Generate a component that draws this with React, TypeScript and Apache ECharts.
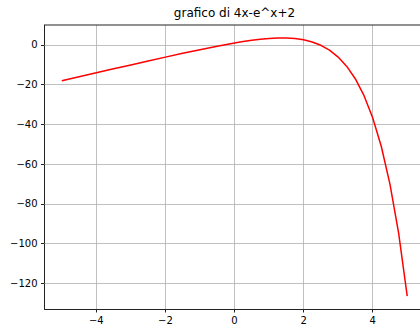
import React, { useEffect, useRef } from "react";
import * as echarts from "echarts";

const xValues = [-5, -4.5, -4, -3.5, -3, -2.5, -2, -1.5, -1, -0.5, 0, 0.25, 0.5, 0.75, 1, 1.25, 1.5, 1.75, 2, 2.25, 2.5, 2.75, 3, 3.25, 3.5, 3.75, 4, 4.25, 4.5, 4.75, 5];
const yValues = [-18.007, -16.011, -14.018, -12.03, -10.05, -8.082, -6.135, -4.223, -2.368, -0.607, 1, 1.716, 2.351, 2.883, 3.282, 3.51, 3.518, 3.245, 2.611, 1.512, -0.182, -2.643, -6.086, -10.79, -17.115, -25.521, -36.598, -51.105, -70.017, -94.584, -126.413];
const xTicks = [-4, -2, 0, 2, 4];
const yTicks = [0, -20, -40, -60, -80, -100, -120];
const titleText = "grafico di 4x-e^x+2";

const fmt = (v: number) => String(v).replace("-", "\u2212");

export default function App() {
  const ref = useRef<HTMLDivElement>(null);
  useEffect(() => {
    if (!ref.current) return;
    const chart = echarts.init(ref.current, null, { renderer: "svg" });
    const font = "DejaVu Sans";
    const axisLineStyle = { color: "#222", width: 1 };
    chart.setOption({
      animation: false,
      backgroundColor: "#fff",
      textStyle: { fontFamily: font },
      grid: { left: 44.5, right: 0.5, top: 25, bottom: 18, show: false },
      graphic: [
        {
          type: "text",
          x: 234.5,
          y: 13,
          style: {
            text: titleText,
            fontFamily: font,
            fontSize: 12,
            fill: "#000",
            textAlign: "center",
            textVerticalAlign: "middle",
          },
        },
        {
          type: "line",
          shape: { x1: 44.5, y1: 25, x2: 425, y2: 25 },
          style: { stroke: "#222", lineWidth: 1 },
          z: 10,
        },
      ],
      xAxis: {
        type: "value",
        min: -5.5,
        max: 5.5,
        axisLine: { show: true, onZero: false, lineStyle: axisLineStyle },
        axisTick: { show: true, length: 3.5, customValues: xTicks, lineStyle: axisLineStyle },
        axisLabel: { customValues: xTicks, formatter: fmt, fontSize: 10, color: "#000", margin: 6, fontFamily: font },
        splitLine: { show: false },
      },
      yAxis: {
        type: "value",
        min: -132.9,
        max: 10.04,
        axisLine: { show: true, onZero: false, lineStyle: axisLineStyle },
        axisTick: { show: true, length: 3.5, customValues: yTicks, lineStyle: axisLineStyle },
        axisLabel: { customValues: yTicks, formatter: fmt, fontSize: 10, color: "#000", margin: 7, fontFamily: font },
        splitLine: { show: false },
      },
      series: [
        {
          type: "line",
          data: xValues.map((x, i) => [x, yValues[i]]),
          showSymbol: false,
          lineStyle: { color: "#ff0000", width: 1.5 },
          z: 5,
          markLine: {
            silent: true,
            symbol: "none",
            label: { show: false },
            lineStyle: { color: "#b0b0b0", width: 0.8, type: "solid" },
            data: [
              ...xTicks.map((v) => ({ xAxis: v })),
              ...yTicks.map((v) => ({ yAxis: v })),
            ],
            z: 1,
          },
        },
      ],
    });
    return () => chart.dispose();
  }, []);
  return (
    <div style={{ position: "absolute", left: 0, top: 0, width: 420, height: 327, overflow: "hidden" }}>
      <div ref={ref} style={{ width: 425, height: 327 }} />
    </div>
  );
}
